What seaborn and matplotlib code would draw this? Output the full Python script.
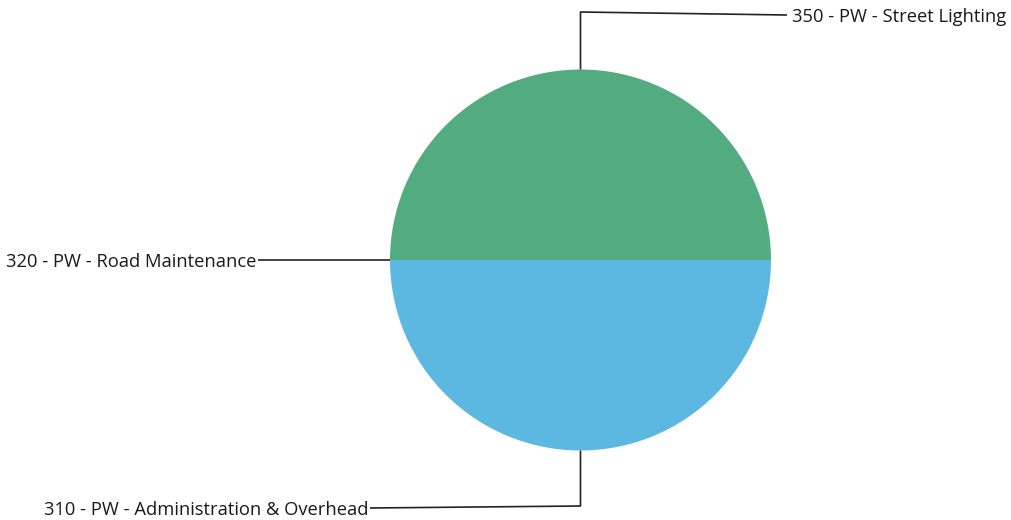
import matplotlib
matplotlib.use("Agg")
import matplotlib.pyplot as plt
import seaborn as sns
import numpy as np

categories = ["310 - PW - Administration & Overhead",
              "320 - PW - Road Maintenance",
              "350 - PW - Street Lighting"]
values = [50, 0, 50]
colors = ["#5DB8E1", "#52AC80", "#52AC80"]

sns.set_theme(style="white")
plt.rcParams['font.family'] = ['Open Sans', 'DejaVu Sans']

W, H = 1011, 520
fig = plt.figure(figsize=(W / 100, H / 100), dpi=100)
ax = fig.add_axes([0, 0, 1, 1])

cx, cy, r = 580.5, 260, 190.5
wedges, _ = ax.pie(values, colors=colors, startangle=0, counterclock=False,
                   center=(cx, cy), radius=r, frame=True,
                   wedgeprops=dict(linewidth=0))
ax.set_xlim(0, W)
ax.set_ylim(0, H)
ax.set_aspect("equal")
ax.axis("off")

# layout for leader lines (pixel positions)
layout = {
    categories[2]: dict(elbow_y=H - 12, end_y=H - 15, end_x=787, ha="left"),
    categories[1]: dict(elbow_y=None, end_y=None, end_x=258, ha="right"),
    categories[0]: dict(elbow_y=H - 506, end_y=H - 508, end_x=370, ha="right"),
}

for w, name in zip(wedges, categories):
    mid = np.deg2rad((w.theta1 + w.theta2) / 2)
    sx, sy = cx + r * np.cos(mid), cy + r * np.sin(mid)
    lay = layout[name]
    if lay["elbow_y"] is None:
        xs, ys = [sx, lay["end_x"]], [sy, sy]
        ty = sy
    else:
        xs = [sx, sx, lay["end_x"]]
        ys = [sy, lay["elbow_y"], lay["end_y"]]
        ty = lay["end_y"]
    ax.plot(xs, ys, color="#222222", lw=1.2, solid_capstyle="butt")
    tx = lay["end_x"] + (5 if lay["ha"] == "left" else -2)
    ax.text(tx, ty, name, ha=lay["ha"], va="center_baseline", fontsize=13.2,
            color="#1a1a1a")

fig.savefig("out.png", dpi=100)
